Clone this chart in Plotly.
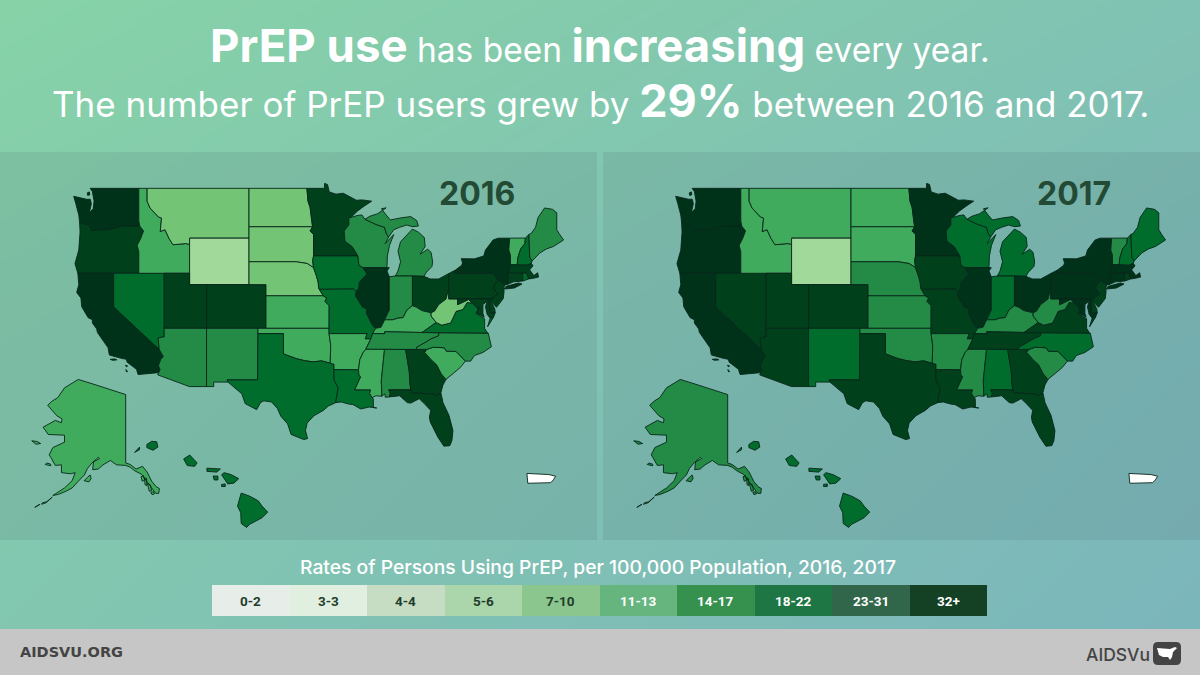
import math
import numpy as np
import plotly.graph_objects as go

# ---------- data ----------
RATE_BINS = ["0-2", "3-3", "4-4", "5-6", "7-10", "11-13", "14-17", "18-22", "23-31", "32+"]
MAP_COLORS = ["#f7fcf5", "#e5f5e0", "#c7e9c0", "#a1d99b", "#74c476", "#41ab5d", "#238b45", "#006d2c", "#00401b", "#00321a"]
LEGEND_COLORS = ["#e7ede9", "#e1efe0", "#c6dcc3", "#abd5aa", "#8bc68e", "#66b57e", "#36914f", "#1e7645", "#32664a", "#144024"]
LEGEND_TEXT = ["#1f3d2a"] * 5 + ["#ffffff"] * 5

STATES = ["WA","OR","CA","NV","ID","MT","WY","UT","CO","AZ","NM","ND","SD","NE","KS","OK","TX","MN","IA","MO","AR","LA",
          "WI","IL","MI","IN","OH","KY","TN","MS","AL","GA","FL","SC","NC","VA","WV","PA","NY","VT","NH","ME","MA","CT",
          "RI","NJ","DE","MD","DC","AK","HI"]
RATE_2016 = ["32+","23-31","32+","18-22","11-13","7-10","5-6","23-31","23-31","14-17","14-17","7-10","7-10","7-10","11-13","11-13","18-22","23-31","18-22","18-22","11-13","18-22",
             "14-17","32+","14-17","14-17","23-31","11-13","14-17","11-13","14-17","23-31","23-31","11-13","14-17","18-22","7-10","23-31","32+","11-13","18-22","14-17","23-31","23-31",
             "18-22","23-31","23-31","23-31","32+","11-13","18-22"]
RATE_2017 = ["32+","32+","32+","23-31","11-13","11-13","5-6","23-31","23-31","23-31","18-22","11-13","11-13","14-17","14-17","14-17","23-31","32+","23-31","23-31","14-17","23-31",
             "18-22","32+","18-22","18-22","32+","14-17","23-31","14-17","18-22","23-31","23-31","14-17","18-22","23-31","14-17","32+","32+","14-17","18-22","18-22","32+","32+",
             "23-31","23-31","23-31","32+","32+","14-17","18-22"]

SHAPES = {
"WA":[[(-117.03,49),(-122.76,49),(-122.5,48.75),(-122.3,48.0),(-122.4,47.4),(-122.85,47.1),(-122.62,47.8),(-122.75,48.15),(-123.2,48.15),(-124.7,48.38),(-124.45,47.8),(-124.1,46.9),(-124.0,46.27),(-123.4,46.2),(-122.9,46.1),(-122.6,45.62),(-121.2,45.65),(-120.5,45.72),(-119.3,45.93),(-118.98,46.0),(-116.92,46.0),(-117.03,46.42)],
      [(-123.1,48.65),(-122.85,48.72),(-122.8,48.5),(-123.05,48.45)]],
"OR":[[(-124.0,46.27),(-123.4,46.2),(-122.9,46.1),(-122.6,45.62),(-121.2,45.65),(-120.5,45.72),(-119.3,45.93),(-118.98,46.0),(-116.92,46.0),(-116.47,45.6),(-116.85,44.9),(-117.22,44.4),(-117.03,43.83),(-117.03,42),(-124.21,42),(-124.55,42.84),(-124.1,44.0),(-123.95,45.5)]],
"CA":[[(-124.21,42),(-120,42),(-120,39),(-114.63,35),(-114.14,34.3),(-114.43,34.05),(-114.72,33.4),(-114.52,33.03),(-114.72,32.72),(-117.12,32.53),(-117.3,33.05),(-118.4,33.75),(-118.5,34.03),(-119.2,34.15),(-120.5,34.45),(-120.65,35.15),(-121.9,36.6),(-122.0,36.95),(-122.5,37.5),(-122.5,37.8),(-123.0,38.0),(-123.75,39.0),(-123.85,39.8),(-124.35,40.3),(-124.1,41.0)],
      [(-120.4,34.03),(-119.9,34.07),(-119.6,33.98),(-120.1,33.93)],[(-118.6,33.45),(-118.35,33.38),(-118.5,33.3)],[(-118.55,33.03),(-118.35,32.82),(-118.5,32.82)]],
"NV":[[(-120,42),(-114.04,42),(-114.04,36.2),(-114.75,36.1),(-114.63,35),(-120,39)]],
"ID":[[(-117.03,49),(-116.05,49),(-116.05,48),(-115.7,47.45),(-114.7,46.73),(-114.35,46.65),(-114.5,45.55),(-113.95,45.7),(-113.45,44.95),(-113,44.45),(-111.5,44.55),(-111.05,44.48),(-111.05,42),(-114.04,42),(-117.03,42),(-117.03,43.83),(-117.22,44.4),(-116.85,44.9),(-116.47,45.6),(-116.92,46),(-117.03,46.42)]],
"MT":[[(-116.05,49),(-104.05,49),(-104.05,45),(-111.05,45),(-111.05,44.48),(-111.5,44.55),(-113,44.45),(-113.45,44.95),(-113.95,45.7),(-114.5,45.55),(-114.35,46.65),(-114.7,46.73),(-115.7,47.45),(-116.05,48)]],
"WY":[[(-111.05,45),(-104.05,45),(-104.05,41),(-111.05,41)]],
"UT":[[(-114.04,42),(-111.05,42),(-111.05,41),(-109.05,41),(-109.05,37),(-114.04,37)]],
"CO":[[(-109.05,41),(-102.05,41),(-102.05,37),(-109.05,37)]],
"AZ":[[(-114.04,37),(-109.05,37),(-109.05,31.33),(-111.07,31.33),(-114.81,32.5),(-114.72,32.72),(-114.52,33.03),(-114.72,33.4),(-114.43,34.05),(-114.14,34.3),(-114.63,35),(-114.75,36.1),(-114.04,36.2)]],
"NM":[[(-109.05,37),(-103.0,37),(-103.04,32),(-106.62,32),(-106.53,31.78),(-108.21,31.78),(-108.21,31.33),(-109.05,31.33)]],
"ND":[[(-104.05,49),(-97.23,49),(-97.1,48),(-96.85,47.5),(-96.75,46.9),(-96.56,45.94),(-104.05,45.94)]],
"SD":[[(-104.05,45.94),(-96.56,45.94),(-96.85,45.6),(-96.45,45.3),(-96.45,43.5),(-96.55,43.1),(-96.45,42.49),(-97.2,42.85),(-98.5,43.0),(-104.05,43)]],
"NE":[[(-104.05,43),(-98.5,43),(-97.2,42.85),(-96.45,42.49),(-96.1,41.75),(-95.9,41.2),(-95.85,40.7),(-95.31,40),(-102.05,40),(-102.05,41),(-104.05,41)]],
"KS":[[(-102.05,40),(-95.31,40),(-94.9,39.8),(-95.1,39.5),(-94.61,39.11),(-94.62,37),(-102.05,37)]],
"OK":[[(-103,37),(-94.62,37),(-94.62,36.5),(-94.43,35.4),(-94.48,33.64),(-95.5,33.88),(-96.5,33.78),(-97.5,33.9),(-98.5,34.1),(-99.2,34.3),(-100,34.56),(-100,36.5),(-103,36.5)]],
"TX":[[(-106.62,32),(-103.04,32),(-103.0,36.5),(-100,36.5),(-100,34.56),(-99.2,34.3),(-98.5,34.1),(-97.5,33.9),(-96.5,33.78),(-95.5,33.88),(-94.48,33.64),(-94.04,33.55),(-94.04,33.02),(-94.04,31.99),(-93.55,31.2),(-93.7,30.3),(-93.84,29.7),(-94.7,29.35),(-95.3,28.9),(-96.4,28.35),(-97.2,27.6),(-97.4,26.8),(-97.15,25.96),(-97.6,25.85),(-99.1,26.4),(-99.5,27.5),(-100.3,28.3),(-100.7,29.1),(-101.4,29.77),(-102.3,29.88),(-102.7,29.7),(-103.15,28.98),(-104.5,29.6),(-104.9,30.6),(-106.53,31.78)]],
"MN":[[(-97.23,49),(-95.15,49),(-95.15,49.38),(-94.8,49.3),(-94.6,48.72),(-93.8,48.55),(-92.95,48.62),(-92.0,48.3),(-91.4,48.07),(-90.75,48.1),(-89.6,48.0),(-90.5,47.6),(-91.3,47.2),(-92.02,46.71),(-92.29,46.66),(-92.29,46.08),(-92.85,45.6),(-92.75,44.75),(-91.9,44.3),(-91.22,43.5),(-96.45,43.5),(-96.45,45.3),(-96.85,45.6),(-96.56,45.94),(-96.75,46.9),(-96.85,47.5),(-97.1,48)]],
"IA":[[(-96.45,43.5),(-91.22,43.5),(-91.1,42.7),(-90.64,42.5),(-90.15,41.95),(-91.05,41.2),(-91.1,40.7),(-91.42,40.38),(-91.73,40.61),(-95.77,40.58),(-95.85,40.7),(-95.9,41.2),(-96.1,41.75),(-96.45,42.49),(-96.55,43.1)]],
"MO":[[(-95.77,40.58),(-91.73,40.61),(-91.42,40.38),(-91.5,40.0),(-90.7,39.0),(-90.15,38.8),(-90.2,38.4),(-89.5,37.3),(-89.13,37.0),(-89.5,36.5),(-89.7,36.0),(-90.37,36.0),(-90.15,36.5),(-94.62,36.5),(-94.62,37),(-94.61,39.11),(-95.1,39.5),(-94.9,39.8),(-95.31,40)]],
"AR":[[(-94.62,36.5),(-90.15,36.5),(-90.37,36),(-89.7,36),(-90.3,35),(-90.6,34.7),(-91.0,34),(-91.15,33.0),(-94.04,33.02),(-94.04,33.55),(-94.48,33.64),(-94.43,35.4)]],
"LA":[[(-94.04,33.02),(-91.15,33),(-91.1,32.5),(-90.9,32.3),(-91.6,31),(-89.73,31),(-89.85,30.65),(-89.55,30.2),(-89.4,30.05),(-89.4,29.8),(-89.4,29.2),(-89.0,29.15),(-89.9,29.25),(-90.9,29.05),(-91.8,29.5),(-92.3,29.55),(-93.2,29.77),(-93.84,29.7),(-93.7,30.3),(-93.55,31.2),(-94.04,31.99)]],
"WI":[[(-90.64,42.5),(-87.8,42.49),(-87.75,43.5),(-87.5,44.4),(-87.0,45.3),(-88.0,44.55),(-87.6,45.1),(-87.85,45.35),(-88.1,45.9),(-89.1,46.13),(-90.4,46.55),(-90.75,46.9),(-91.2,46.87),(-92.02,46.71),(-92.29,46.66),(-92.29,46.08),(-92.85,45.6),(-92.75,44.75),(-91.9,44.3),(-91.22,43.5),(-91.1,42.7)]],
"IL":[[(-87.53,42.49),(-90.64,42.5),(-90.15,41.95),(-91.05,41.2),(-91.1,40.7),(-91.42,40.38),(-91.5,40),(-90.7,39),(-90.15,38.8),(-90.2,38.4),(-89.5,37.3),(-89.13,37),(-88.5,37.1),(-88.07,37.8),(-87.53,38.7),(-87.53,39.35),(-87.53,41.7),(-87.8,42.2)]],
"MI":[[(-90.4,46.55),(-89.1,46.13),(-88.1,45.9),(-87.85,45.35),(-87.6,45.1),(-87.0,45.7),(-86.3,45.9),(-85.5,46.08),(-84.75,45.95),(-84.1,46.0),(-84.3,46.45),(-85.0,46.77),(-86.1,46.67),(-87.4,46.5),(-87.9,46.9),(-88.45,47.4),(-87.9,47.47),(-88.9,47.0),(-89.8,46.8)],
      [(-84.8,45.75),(-85.5,45.2),(-86.2,44.7),(-86.5,43.9),(-86.2,43),(-86.5,42.2),(-86.82,41.76),(-84.8,41.76),(-83.45,41.73),(-83.15,42.1),(-82.5,42.6),(-82.42,43.0),(-82.6,43.8),(-83.0,44.07),(-83.9,43.65),(-83.3,44.3),(-83.4,45.05),(-84.1,45.5)]],
"IN":[[(-87.53,41.7),(-86.82,41.76),(-84.8,41.76),(-84.8,39.1),(-85.45,38.7),(-85.9,38),(-86.5,37.95),(-87.1,37.8),(-88.07,37.8),(-87.53,38.7),(-87.53,39.35)]],
"OH":[[(-84.8,41.76),(-83.45,41.73),(-82.7,41.5),(-81.7,41.5),(-80.52,41.98),(-80.52,40.64),(-80.85,39.7),(-81.7,39.2),(-82.2,38.6),(-82.6,38.45),(-83.7,38.65),(-84.3,38.95),(-84.8,39.1)]],
"KY":[[(-89.5,36.5),(-89.13,37),(-88.5,37.1),(-88.07,37.8),(-87.1,37.8),(-86.5,37.95),(-85.9,38.0),(-85.45,38.7),(-84.8,39.1),(-84.3,38.95),(-83.7,38.65),(-82.6,38.45),(-82.6,38.15),(-82.0,37.55),(-83.68,36.6),(-88.07,36.68),(-88.05,36.5)]],
"TN":[[(-90.3,35),(-89.7,36),(-89.5,36.5),(-88.05,36.5),(-88.07,36.68),(-83.68,36.6),(-81.68,36.59),(-81.7,36.3),(-82.6,36.0),(-83.1,35.75),(-84.3,35.2),(-84.32,34.99),(-85.6,34.98),(-88.2,35)]],
"MS":[[(-90.3,35),(-88.2,35),(-88.1,34.9),(-88.47,31.9),(-88.4,30.35),(-89.1,30.4),(-89.55,30.2),(-89.85,30.65),(-89.73,31),(-91.6,31),(-90.9,32.3),(-91.1,32.5),(-91.15,33),(-91,34),(-90.6,34.7)]],
"AL":[[(-88.2,35),(-85.6,34.98),(-85.18,32.87),(-85.1,31.6),(-85.0,31),(-87.6,31),(-87.4,30.65),(-87.52,30.28),(-88.0,30.25),(-88.05,30.6),(-88.4,30.35),(-88.47,31.9),(-88.1,34.9)]],
"GA":[[(-85.6,34.98),(-84.32,34.99),(-83.1,35),(-83.35,34.7),(-82.6,34),(-81.95,33.5),(-81.4,32.6),(-80.85,32.05),(-81.2,31.5),(-81.45,30.72),(-82.05,30.36),(-82.2,30.57),(-84.86,30.7),(-85.0,31.0),(-85.1,31.6),(-85.18,32.87)]],
"FL":[[(-87.6,31),(-85,31),(-84.86,30.7),(-82.2,30.57),(-82.05,30.36),(-81.45,30.72),(-81.2,29.7),(-80.5,28.4),(-80.03,26.8),(-80.15,25.75),(-80.4,25.2),(-81.1,25.15),(-81.8,26.1),(-82.7,27.7),(-82.8,28.2),(-82.65,28.9),(-83.4,29.6),(-84.0,30.1),(-85.0,29.65),(-85.4,29.7),(-86.3,30.4),(-87.52,30.28),(-87.4,30.65)]],
"SC":[[(-83.1,35),(-82.35,35.2),(-81.05,35.15),(-80.8,34.82),(-79.67,34.8),(-78.55,33.86),(-79.2,33.2),(-80.0,32.6),(-80.85,32.05),(-81.4,32.6),(-81.95,33.5),(-82.6,34.0),(-83.35,34.7)]],
"NC":[[(-84.32,34.99),(-84.3,35.2),(-83.1,35.75),(-82.6,36),(-81.7,36.3),(-81.68,36.59),(-75.87,36.55),(-75.5,35.25),(-76.5,34.7),(-77.5,34.4),(-77.95,33.85),(-78.55,33.86),(-79.67,34.8),(-80.8,34.82),(-81.05,35.15),(-82.35,35.2),(-83.1,35.0)]],
"VA":[[(-83.68,36.6),(-82.0,37.55),(-81.35,37.3),(-80.3,37.5),(-79.65,38.58),(-78.85,38.75),(-78.35,39.4),(-77.72,39.32),(-77.5,39.1),(-77.04,38.8),(-77.3,38.4),(-76.3,37.9),(-76.3,37.0),(-75.95,36.55),(-81.68,36.59)],
      [(-75.65,37.95),(-75.25,38.03),(-75.95,37.15)]],
"WV":[[(-80.52,40.64),(-80.52,39.72),(-79.48,39.72),(-79.48,39.2),(-78.9,39.4),(-78.2,39.67),(-77.72,39.32),(-78.35,39.4),(-78.85,38.75),(-79.65,38.58),(-80.3,37.5),(-81.35,37.3),(-82.0,37.55),(-82.6,38.15),(-82.6,38.45),(-82.2,38.6),(-81.7,39.2),(-80.85,39.7)]],
"PA":[[(-80.52,41.98),(-79.76,42.27),(-79.76,42),(-75.35,42),(-75.05,41.75),(-74.7,41.36),(-75.13,40.99),(-75.2,40.65),(-74.73,40.15),(-75.4,39.8),(-75.79,39.72),(-80.52,39.72)]],
"NY":[[(-79.76,42.27),(-79.0,42.7),(-78.9,42.9),(-79.05,43.27),(-77.5,43.25),(-76.4,43.5),(-76.2,44.0),(-75.3,44.85),(-74.7,45.0),(-73.35,45.0),(-73.45,44),(-73.25,43.55),(-73.25,42.75),(-73.5,42.05),(-73.5,41.3),(-73.65,41.0),(-73.9,40.98),(-74.7,41.36),(-75.05,41.75),(-75.35,42),(-79.76,42)],
      [(-74.03,40.6),(-73.75,40.85),(-72.3,41.15),(-71.9,41.05),(-72.8,40.7),(-73.9,40.55)]],
"VT":[[(-73.35,45),(-71.5,45.01),(-71.55,44.55),(-72.05,44.1),(-72.4,43.3),(-72.46,42.73),(-73.25,42.75),(-73.25,43.55),(-73.45,44)]],
"NH":[[(-71.5,45.01),(-71.08,45.3),(-70.98,43.4),(-70.7,43.07),(-70.8,42.87),(-71.3,42.7),(-72.46,42.73),(-72.4,43.3),(-72.05,44.1),(-71.55,44.55)]],
"ME":[[(-71.08,45.3),(-70.8,45.4),(-70.3,45.9),(-70.0,46.7),(-69.23,47.46),(-69.0,47.43),(-68.3,47.35),(-67.8,47.07),(-67.8,45.7),(-67.45,45.3),(-67.0,44.85),(-68.2,44.3),(-69.0,44.1),(-69.8,43.75),(-70.7,43.07),(-70.98,43.4)]],
"MA":[[(-73.5,42.05),(-73.25,42.75),(-72.46,42.73),(-71.3,42.7),(-70.8,42.87),(-70.6,42.65),(-71.0,42.3),(-70.7,42.0),(-70.5,41.8),(-70.05,42.05),(-69.95,41.67),(-70.65,41.55),(-71.12,41.5),(-71.38,42.02),(-71.8,42.02)]],
"CT":[[(-73.5,42.05),(-71.8,42.02),(-71.8,41.32),(-72.9,41.25),(-73.65,41.0),(-73.5,41.3)]],
"RI":[[(-71.8,42.02),(-71.38,42.02),(-71.12,41.5),(-71.8,41.32)]],
"NJ":[[(-74.7,41.36),(-73.9,40.98),(-74.1,40.6),(-74.0,40.45),(-74.1,39.75),(-74.9,38.95),(-75.55,39.5),(-75.4,39.8),(-74.73,40.15),(-75.2,40.65),(-75.13,40.99)]],
"DE":[[(-75.79,39.72),(-75.4,39.8),(-75.55,39.5),(-75.1,38.8),(-75.05,38.45),(-75.7,38.46)]],
"MD":[[(-79.48,39.72),(-75.79,39.72),(-75.7,38.46),(-75.05,38.45),(-75.25,38.03),(-75.65,37.95),(-76.0,38.3),(-76.2,39.0),(-76.0,39.5),(-76.5,39.2),(-76.5,38.4),(-76.35,38.05),(-76.95,38.3),(-77.3,38.4),(-77.04,38.8),(-77.5,39.1),(-77.72,39.32),(-78.2,39.67),(-78.9,39.4),(-79.48,39.2)]],
"DC":[[(-77.12,38.93),(-77.04,39.0),(-76.91,38.89),(-77.04,38.8)]],
"AK":[[(-141,69.65),(-141,60.3),(-139.5,60.05),(-137.6,59.3),(-135.5,59.75),(-134,58.8),(-132.5,57.2),(-131,56.2),(-130.0,55.9),(-130.2,55.0),(-131.2,55.0),(-132.5,56.0),(-134.2,57.4),(-135.8,58.4),(-138,59.0),(-139.5,59.6),(-141,59.9),(-144,60.0),(-146,60.7),(-148.4,60.0),(-150,59.3),(-151.8,59.2),(-151.5,60.5),(-149.5,61.0),(-150,61.2),(-152,60.3),(-153.5,59.4),(-154.5,58.3),(-156.5,57.2),(-158.5,56.0),(-160.5,55.4),(-163,54.8),(-164.8,54.6),(-163.3,55.1),(-161,56),(-158.5,57.3),(-157.5,58.7),(-159,58.5),(-162,58.7),(-162,60),(-164,59.9),(-165.5,61.2),(-166,61.6),(-164.8,62.7),(-163,63.1),(-161,63.5),(-161,64.5),(-163,64.5),(-166.3,64.6),(-168,65.6),(-164,66.5),(-162,66.2),(-161.8,66.7),(-163.5,67.1),(-166.5,68.4),(-165,68.9),(-163.2,69.3),(-161,70.4),(-156.5,71.3),(-152,70.85),(-148,70.4),(-144,70)],
      [(-154.6,57.3),(-153.0,57.1),(-152.3,57.7),(-152.6,58.3),(-153.5,57.9)],
      [(-166.8,60.3),(-165.5,60.1),(-165.5,59.85),(-167.3,60.05)],
      [(-171.7,63.7),(-170,63.6),(-168.8,63.3),(-170.3,63.2)],
      [(-165,54.3),(-166.8,53.4),(-168.2,53.2),(-168.5,52.9),(-167,53.2),(-165.5,53.9)],
      [(-169,52.9),(-170,52.6),(-170.7,52.3),(-169.8,52.5)],
      [(-136,58),(-135.2,58.2),(-134.8,57.4),(-135.6,57.2)],[(-134.8,57.8),(-134.2,57.7),(-134.1,56.4),(-134.7,56.6)],
      [(-133.9,56.8),(-133,56.6),(-132.5,55.5),(-133.3,55.4)],[(-132.8,55.2),(-131.9,55.3),(-131.6,54.9),(-132.4,54.75)]],
"HI":[[(-155.9,20.25),(-155.55,20.13),(-155.2,19.95),(-155.05,19.75),(-154.82,19.52),(-155.05,19.3),(-155.55,19.05),(-155.68,18.93),(-155.9,19.08),(-155.92,19.5),(-156.05,19.75)],
      [(-156.7,20.95),(-156.6,21.03),(-156.3,20.95),(-156.0,20.8),(-156.2,20.63),(-156.45,20.6)],
      [(-157.3,21.2),(-156.75,21.17),(-156.9,21.05),(-157.3,21.08)],
      [(-157.05,20.9),(-156.85,20.9),(-156.85,20.75),(-157.0,20.75)],
      [(-156.7,20.58),(-156.55,20.6),(-156.55,20.5),(-156.7,20.5)],
      [(-158.25,21.55),(-158.0,21.7),(-157.7,21.4),(-157.8,21.27),(-158.1,21.3)],
      [(-159.75,22.1),(-159.55,22.22),(-159.35,22.2),(-159.3,22.0),(-159.5,21.88),(-159.75,21.98)],
      [(-160.25,21.8),(-160.05,22.0),(-160.05,21.9)]],
}
PR_SHAPE = [(-67.25,18.5),(-66.6,18.47),(-66.0,18.44),(-65.62,18.35),(-65.75,18.15),(-65.9,18.0),(-66.6,17.98),(-67.2,17.97)]

# ---------- scales ----------
W, H = 1200, 675
PANEL_TOP, PANEL_BOT = 152, 540
K = 8.49              # px per degree longitude on the main map
LON_AT_0 = -133.38    # longitude at px x = 0, left map
M_AT_0 = 666.9        # px y of mercator-degree 0

def merc(lat):
    return math.degrees(math.log(math.tan(math.pi / 4 + math.radians(lat) / 2)))

def project(lon, lat):
    return lon, merc(lat)

def inset(scale, px, py, lon0, lat0):
    def f(lon, lat):
        x = px + scale * (lon - lon0)
        y = py - scale * (merc(lat) - merc(lat0))
        return LON_AT_0 + x / K, (M_AT_0 - y) / K
    return f

PROJ = {"AK": inset(3.06, 125.7, 395, -141, 69.6), "HI": inset(24.5, 251, 510, -155.5, 19.6)}
PR_PROJ = inset(17.6, 541, 479, -66.45, 18.2)

def xy_of(rings, proj):
    xs, ys = [], []
    for ring in rings:
        for lon, lat in list(ring) + [ring[0]]:
            x, y = proj(lon, lat)
            xs.append(x); ys.append(y)
        xs.append(None); ys.append(None)
    return xs, ys

fig = go.Figure()

# ---------- background ----------
BG_Z = [[0.0, 0.28, 0.56], [0.28, 0.56, 0.84], [0.44, 0.72, 1.0]]
fig.add_trace(go.Heatmap(x=[0, 600, 1200], y=[0, 337, 675], z=BG_Z, zsmooth="best", showscale=False,
                         colorscale=[[0, "#87d3a7"], [1, "#7bb5bc"]], zmin=0, zmax=1, hoverinfo="skip"))
for x0, x1 in [(0, 597), (603, 1200)]:
    fig.add_trace(go.Scatter(x=[x0, x1, x1, x0, x0], y=[PANEL_TOP, PANEL_TOP, PANEL_BOT, PANEL_BOT, PANEL_TOP],
                             mode="lines", line=dict(width=0), fill="toself", fillcolor="rgba(70,90,100,0.13)", hoverinfo="skip"))

# ---------- footer + legend ----------
fig.add_shape(type="rect", xref="x", yref="y", x0=0, x1=W, y0=629, y1=H, fillcolor="#c6c6c6", line_width=0, layer="above")
fig.add_trace(go.Bar(x=[212 + 77.5 * (i + 0.5) for i in range(10)], y=[31] * 10, base=[585] * 10, width=[77.5] * 10,
                     marker=dict(color=LEGEND_COLORS, line_width=0), hoverinfo="skip"))

# ---------- maps ----------
for rates, xa, ya in [(RATE_2016, "x2", "y2"), (RATE_2017, "x3", "y3")]:
    for st, rate in zip(STATES, rates):
        xs, ys = xy_of(SHAPES[st], PROJ.get(st, project))
        fig.add_trace(go.Scatter(x=xs, y=ys, xaxis=xa, yaxis=ya, mode="lines", fill="toself",
                                 fillcolor=MAP_COLORS[RATE_BINS.index(rate)],
                                 line=dict(color="#08261a", width=0.9), name=st, hovertext=f"{st}: {rate}", hoverinfo="text"))
    xs, ys = xy_of([PR_SHAPE], PR_PROJ)
    fig.add_trace(go.Scatter(x=xs, y=ys, xaxis=xa, yaxis=ya, mode="lines", fill="toself", fillcolor="#ffffff",
                             line=dict(color="#08261a", width=0.9), name="PR", hoverinfo="skip"))

# ---------- text ----------
F = "Inter"
ann = []
def text(x, y, s, size, color="#ffffff", anchor="center", family=F, weight=None):
    ann.append(dict(x=x, y=y, xref="x", yref="y", text=s, showarrow=False, xanchor=anchor, yanchor="middle",
                    font=dict(family=family, size=size, color=color, weight=weight)))

b = lambda s, z: f'<b><span style="font-size:{z}px">{s}</span></b>'
text(600, 45, b("PrEP use", 45.5) + " has been " + b("increasing", 45.5) + " every year.", 33.5)
text(600, 100, "The number of PrEP users grew by " + b("29%", 45) + " between 2016 and 2017.", 35)
text(477, 193, "<b>2016</b>", 32, "#234a34")
text(1074, 193, "<b>2017</b>", 32, "#234a34")
text(598, 567, "Rates of Persons Using PrEP, per 100,000 Population, 2016, 2017", 19.3, weight=500)
for i, lab in enumerate(RATE_BINS):
    text(212 + 77.5 * (i + 0.5), 601, f"<b>{lab}</b>", 13.5, LEGEND_TEXT[i], family="Roboto")
text(18, 652, "<b>AIDSVU.ORG</b>", 14.5, "#444444", "left", family="DejaVu Sans")
text(1084, 654, "AIDSVu", 17.5, "#444444", "left", weight=500)

# logo
fig.add_shape(type="path", xref="x", yref="y", layer="above", fillcolor="#444444", line_width=0,
              path="M1158,642 L1176,642 Q1181,642 1181,647 L1181,660 Q1181,665 1176,665 L1158,665 Q1153,665 1153,660 L1153,647 Q1153,642 1158,642 Z")
fig.add_shape(type="path", xref="x", yref="y", layer="above", fillcolor="#ffffff", line_width=0,
              path="M1157,648 L1170,649 L1175,647 L1177,648 L1173,652 L1172,657 L1170,660 L1168,657 L1163,657 L1159,655 Z")

ax = dict(visible=False, showgrid=False, zeroline=False, fixedrange=True)
fig.update_layout(
    width=W, height=H, margin=dict(l=0, r=0, t=0, b=0), showlegend=False, bargap=0,
    paper_bgcolor="#7fc4ae", plot_bgcolor="rgba(0,0,0,0)", annotations=ann,
    xaxis=dict(ax, range=[0, W], domain=[0, 1]),
    yaxis=dict(ax, range=[H, 0], domain=[0, 1]),
    xaxis2=dict(ax, range=[LON_AT_0, LON_AT_0 + 597 / K], domain=[0, 597 / W], anchor="y2"),
    yaxis2=dict(ax, range=[(M_AT_0 - PANEL_BOT) / K, (M_AT_0 - PANEL_TOP) / K],
                domain=[(H - PANEL_BOT) / H, (H - PANEL_TOP) / H], anchor="x2"),
    xaxis3=dict(ax, range=[LON_AT_0 + 1 / K, LON_AT_0 + 598 / K], domain=[603 / W, 1], anchor="y3"),
    yaxis3=dict(ax, range=[(M_AT_0 - PANEL_BOT) / K, (M_AT_0 - PANEL_TOP) / K],
                domain=[(H - PANEL_BOT) / H, (H - PANEL_TOP) / H], anchor="x3"),
)
fig.write_html("out.html", config=dict(displayModeBar=False),
               post_script="document.body.style.margin='0';document.documentElement.style.overflow='hidden';")
